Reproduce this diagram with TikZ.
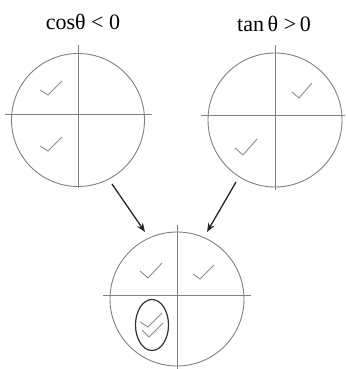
\documentclass[tikz,border=0pt]{standalone}
\usepackage{fontspec}
\setmainfont{Liberation Serif}
\usetikzlibrary{arrows.meta,shapes.geometric}
\begin{document}
\begin{tikzpicture}[x=1pt,y=-1pt,
  circ/.style={draw=black!50,line width=0.9pt},
  axis/.style={draw=black!50,line width=0.9pt},
  tick/.style={draw=black!45,line width=0.9pt},
  arr/.style={draw=black!85,line width=1.3pt,-{Stealth[length=9pt,width=7pt]}},
  ring/.style={draw=black!80,line width=1.2pt},
  title/.style={font=\fontsize{22}{24}\selectfont,anchor=base}]
\useasboundingbox (0,0) rectangle (345,369);
% titles
\node[title] (t1) at (83,30) {cosθ < 0};
\node[title] (t2) at (274,32) {tan\,θ >\,0};
% left circle
\node[circ,circle,minimum size=133pt,inner sep=0pt] (c1) at (78,120) {};
\draw[axis] (5,114) -- (152,114);
\draw[axis] (78,45) -- (78,188);
\draw[tick] (40,90) -- (48,95) -- (62,81);
\draw[tick] (40,146) -- (48,151) -- (62,137);
% right circle
\node[circ,circle,minimum size=134pt,inner sep=0pt] (c2) at (275,120) {};
\draw[axis] (201,115) -- (345,115);
\draw[axis] (275,45) -- (275,190);
\draw[tick] (292,92) -- (299,98) -- (312,83);
\draw[tick] (235,148) -- (243,155) -- (257,139);
% bottom circle
\node[circ,circle,minimum size=134pt,inner sep=0pt] (c3) at (177,299) {};
\draw[axis] (103,295) -- (251,295);
\draw[axis] (177,225) -- (177,369);
\draw[tick] (140,271) -- (148,278) -- (162,263);
\draw[tick] (193,274) -- (200,279) -- (214,265);
\node[ring,ellipse,minimum width=33pt,minimum height=51pt,inner sep=0pt] (e) at (152,325) {};
\draw[tick] (140,322) -- (148,327) -- (162,313);
\draw[tick] (142,330) -- (149,337) -- (163,323);
% arrows
\coordinate (a1s) at (112,184);
\coordinate (a1e) at (145,232);
\coordinate (a2s) at (236,182);
\coordinate (a2e) at (207,232);
\draw[arr] (a1s) -- (a1e);
\draw[arr] (a2s) -- (a2e);
\end{tikzpicture}
\end{document}
